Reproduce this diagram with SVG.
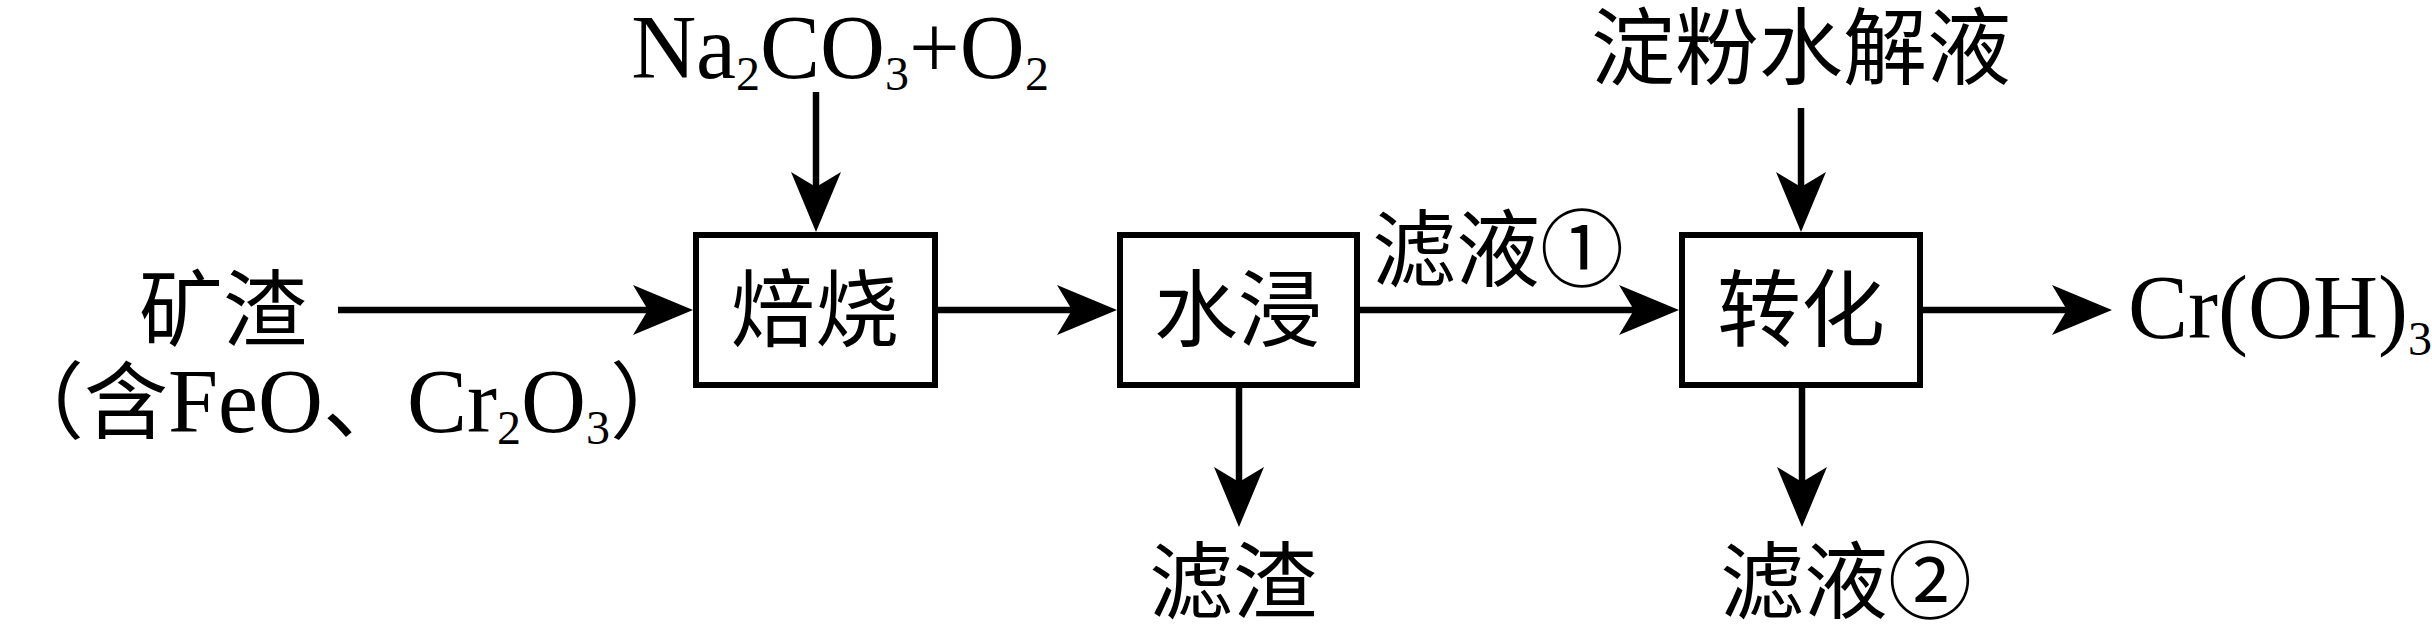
<svg xmlns="http://www.w3.org/2000/svg" width="2432" height="635" viewBox="0 0 2432 635">
<style>
.box{fill:#fff;stroke:#000;stroke-width:6}
.ln{fill:none;stroke:#000;stroke-width:6.5}
.t{font-family:"Liberation Serif","Noto Sans CJK SC",serif;font-size:84px;fill:#000}
.lat{font-size:90px}
.sub{font-size:48px}
</style>
<defs>
<marker id="ah" markerUnits="userSpaceOnUse" viewBox="0 0 60 50" refX="15" refY="25" markerWidth="60" markerHeight="50" orient="auto">
<path d="M0,0 L60,25 L0,50 L15,25 Z" fill="#000"/>
</marker>
</defs>
<rect width="2432" height="635" fill="#fff"/>
<g id="connectors">
<line class="ln" x1="338" y1="310" x2="648" y2="310" marker-end="url(#ah)"/>
<line class="ln" x1="938" y1="310" x2="1072" y2="310" marker-end="url(#ah)"/>
<line class="ln" x1="1360" y1="310" x2="1634" y2="310" marker-end="url(#ah)"/>
<line class="ln" x1="1923" y1="310" x2="2067" y2="310" marker-end="url(#ah)"/>
<line class="ln" x1="816" y1="92" x2="816" y2="187" marker-end="url(#ah)"/>
<line class="ln" x1="1801" y1="108" x2="1801" y2="187" marker-end="url(#ah)"/>
<line class="ln" x1="1239" y1="388" x2="1239" y2="482" marker-end="url(#ah)"/>
<line class="ln" x1="1802" y1="388" x2="1802" y2="482" marker-end="url(#ah)"/>
</g>
<g id="roast">
<rect class="box" x="696" y="235" width="239" height="150"/>
<text class="t" x="815" y="340" text-anchor="middle">焙烧</text>
</g>
<g id="leach">
<rect class="box" x="1120" y="235" width="237" height="150"/>
<text class="t" x="1238" y="340" text-anchor="middle">水浸</text>
</g>
<g id="convert">
<rect class="box" x="1682" y="235" width="238" height="150"/>
<text class="t" x="1801" y="340" text-anchor="middle">转化</text>
</g>
<g id="slag">
<text class="t" x="223" y="340" text-anchor="middle">矿渣</text>
<text class="t" x="0" y="432">（含<tspan class="lat">FeO</tspan>、<tspan class="lat">Cr</tspan><tspan class="sub" dy="12">2</tspan><tspan class="lat" dy="-12">O</tspan><tspan class="sub" dy="12">3</tspan><tspan dy="-12">）</tspan></text>
</g>
<g id="reagent1">
<text class="t lat" x="840" y="78" text-anchor="middle">Na<tspan class="sub" dy="12">2</tspan><tspan dy="-12">CO</tspan><tspan class="sub" dy="12">3</tspan><tspan dy="-12">+O</tspan><tspan class="sub" dy="12">2</tspan></text>
</g>
<g id="reagent2">
<text class="t" x="1801" y="78" text-anchor="middle">淀粉水解液</text>
</g>
<g id="filtrate1">
<text class="t" x="1372" y="280">滤液①</text>
</g>
<g id="residue">
<text class="t" x="1233" y="612" text-anchor="middle">滤渣</text>
</g>
<g id="filtrate2">
<text class="t" x="1720" y="612">滤液②</text>
</g>
<g id="product">
<text class="t lat" x="2128" y="338">Cr(OH)<tspan class="sub" dy="17">3</tspan></text>
</g>
</svg>
